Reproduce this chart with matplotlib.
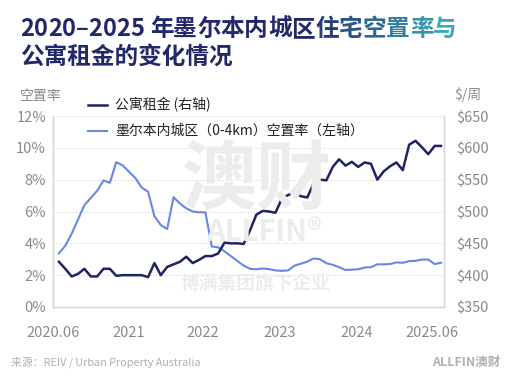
import numpy as np
import matplotlib
matplotlib.use("Agg")
import matplotlib.pyplot as plt
from matplotlib.colors import to_rgb

plt.rcParams['font.family'] = ['Noto Sans CJK SC', 'DejaVu Sans']

# monthly, 2020.06 .. 2025.06
vacancy = [3.37, 3.85, 4.6, 5.5, 6.4, 6.85, 7.3, 7.95, 7.8, 9.1,
           8.9, 8.5, 8.1, 7.5, 7.25, 5.7, 5.15, 4.9, 6.9, 6.5,
           6.2, 6.0, 5.95, 5.95, 3.8, 3.75, 3.5, 3.2, 2.9, 2.6,
           2.4, 2.37, 2.42, 2.38, 2.3, 2.27, 2.3, 2.6, 2.72, 2.85,
           3.05, 3.0, 2.75, 2.65, 2.5, 2.32, 2.35, 2.37, 2.48, 2.5,
           2.68, 2.68, 2.7, 2.8, 2.78, 2.88, 2.9, 2.98, 2.98, 2.7,
           2.78]
rent = [421, 410, 398, 402, 410, 398, 398, 410, 410, 399,
        400, 400, 400, 400, 397, 419, 400, 413, 417, 421,
        429, 419, 424, 430, 430, 434, 451, 450, 450, 449,
        470, 495, 501, 500, 498, 520, 526, 530, 524, 522,
        544, 550, 549, 570, 582, 572, 578, 570, 577, 575,
        550, 563, 571, 577, 565, 605, 611, 601, 590, 603,
        603]
x_labels = ["2020.06", "2021", "2022", "2023", "2024", "2025.06"]
x_label_pos = [-0.93, 11.0, 22.6, 34.7, 46.7, 58.6]
left_ticks = [0, 2, 4, 6, 8, 10, 12]
right_ticks = [350, 400, 450, 500, 550, 600, 650]

NAVY = "#1f2463"
LIGHT = "#6a86e6"
GREY = "#8a8a8a"
GRID = "#d9d9d9"

fig = plt.figure(figsize=(5.08, 3.78), dpi=100)
ax = fig.add_axes([53 / 508, 1 - 307 / 378, (444 - 53) / 508, (307 - 116) / 378])
ax2 = ax.twinx()

months = np.arange(len(vacancy))
ax.plot(months, vacancy, color=LIGHT, lw=1.5, zorder=3)
ax2.plot(months, rent, color=NAVY, lw=1.8, zorder=3)

ax.set_xlim(-0.15, 60.47)
ax.set_ylim(0, 12)
ax2.set_ylim(350, 650)
ax.set_yticks(left_ticks)
ax.set_yticklabels([f"{t}%" for t in left_ticks])
ax2.set_yticks(right_ticks)
ax2.set_yticklabels([f"${t}" for t in right_ticks])
ax.set_xticks(x_label_pos)
ax.set_xticklabels(x_labels)

for a in (ax, ax2):
    a.tick_params(length=0, labelsize=10.5, labelcolor=GREY)
    a.spines["top"].set_visible(False)
    for s in ("left", "right", "bottom"):
        a.spines[s].set_color(GRID)
        a.spines[s].set_linewidth(1.0)
ax.tick_params(axis="y", pad=5)
ax.tick_params(axis="x", pad=14)
ax2.tick_params(axis="y", pad=9)
ax.grid(axis="y", color=GRID, ls=(0, (1, 1.5)), lw=0.8)
ax.set_axisbelow(True)

# axis titles
fig.text(20 / 508, 1 - 96 / 378, "空置率", fontsize=10, color=GREY, va="center")
fig.text(454 / 508, 1 - 95 / 378, "$/周", fontsize=10, color=GREY, va="center")

# legend (drawn by hand to match placement)
for y_px, col, lw, label in [(105, NAVY, 1.8, "公寓租金 (右轴)"),
                             (131, LIGHT, 1.5, "墨尔本内城区（0-4km）空置率（左轴）")]:
    fy = 1 - y_px / 378
    fig.add_artist(plt.Line2D([88 / 508, 107 / 508], [fy, fy], color=col, lw=lw,
                              transform=fig.transFigure))
    fig.text(115 / 508, fy, label, fontsize=10, color="#222222", va="center")

# watermark
wm = "#ececec"
fig.text(257 / 508, 1 - 181 / 378, "澳财", fontsize=54, fontweight="bold", color=wm,
         ha="center", va="center", zorder=0)
fig.text(264 / 508, 1 - 232 / 378, "ALLFIN®", fontsize=21, fontweight="bold", color=wm,
         ha="center", va="center", zorder=0)
fig.text(255 / 508, 1 - 283 / 378, "博满集团旗下企业", fontsize=13.5, fontweight="bold", color=wm,
         ha="center", va="center", zorder=0)

# title with a navy -> teal fade on the first line
line1 = "2020–2025 年墨尔本内城区住宅空置率与"
start_fade = line1.index("住")
c0, c1 = np.array(to_rgb("#22296b")), np.array(to_rgb("#38a9ba"))
renderer = fig.canvas.get_renderer()
x = 20 / 508
y1 = 1 - 29 / 378
for i, ch in enumerate(line1):
    if i < start_fade:
        col = c0
    else:
        f = (i - start_fade + 1) / (len(line1) - start_fade)
        col = c0 + (c1 - c0) * min(f, 1.0)
    t = fig.text(x, y1, ch, fontsize=17, fontweight="bold", color=col, va="center")
    bb = t.get_window_extent(renderer)
    x += bb.width / fig.bbox.width
fig.text(20 / 508, 1 - 57 / 378, "公寓租金的变化情况", fontsize=17, fontweight="bold",
         color="#22296b", va="center")

# footer
fig.text(11 / 508, 1 - 362 / 378, "来源：REIV / Urban Property Australia", fontsize=7.8,
         color="#b0b0b0", va="center")
fig.text(500 / 508, 1 - 362 / 378, "ALLFIN澳财", fontsize=9, fontweight="bold",
         color="#b0b0b0", va="center", ha="right")

fig.savefig("out.png", dpi=100)
